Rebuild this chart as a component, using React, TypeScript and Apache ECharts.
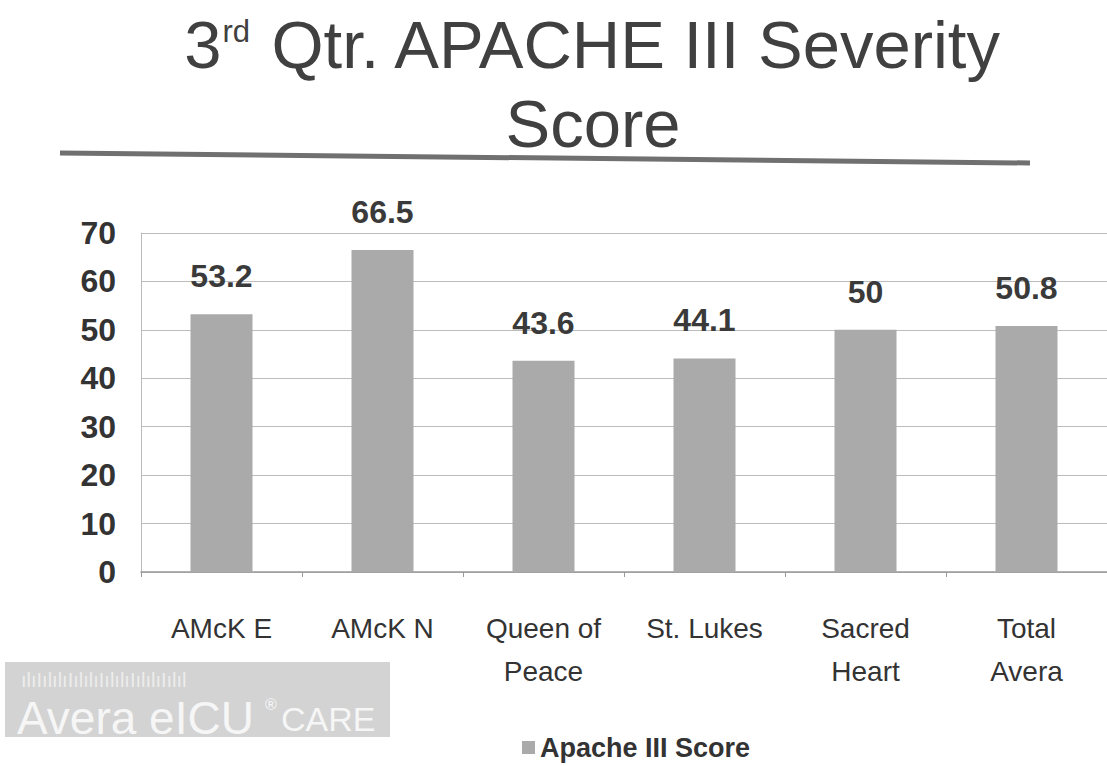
import React, { useEffect, useRef } from "react";
import * as echarts from "echarts";

const categories = ["AMcK E", "AMcK N", "Queen of\nPeace", "St. Lukes", "Sacred\nHeart", "Total\nAvera"];
const scores = [53.2, 66.5, 43.6, 44.1, 50, 50.8];
const seriesName = "Apache III Score";
const yTicks = [0, 10, 20, 30, 40, 50, 60, 70];

export default function App() {
  const ref = useRef<HTMLDivElement>(null);
  useEffect(() => {
    document.body.style.margin = "0";
    const chart = echarts.init(ref.current!, undefined, { renderer: "svg" });
    const font = "'Liberation Sans', Arial, sans-serif";
    chart.setOption({
      animation: false,
      backgroundColor: "#ffffff",
      textStyle: { fontFamily: font },
      title: {
        text: "{n|3}{sup|rd}{n| Qtr. APACHE III Severity}\n{n|Score}",
        left: 588,
        top: 0,
        textAlign: "center",
        textStyle: {
          rich: {
            n: { fontSize: 67, fontWeight: "normal", color: "#404040", fontFamily: font, lineHeight: 79 },
            sup: { fontSize: 31, fontWeight: "normal", color: "#404040", fontFamily: font, verticalAlign: "top", lineHeight: 31, padding: [11, 1, 0, 1] },
          },
        },
      },
      legend: {
        data: [seriesName],
        left: 517,
        top: 729,
        itemWidth: 13,
        itemHeight: 13,
        icon: "rect",
        itemGap: 4,
        textStyle: { fontSize: 27, fontWeight: "bold", color: "#333", fontFamily: font },
      },
      grid: { left: 141, top: 233, width: 972, bottom: 194, containLabel: false },
      xAxis: {
        type: "category",
        data: categories,
        axisLine: { lineStyle: { color: "#999", width: 1.5 } },
        axisTick: { show: true, length: 5, lineStyle: { color: "#999" } },
        axisLabel: { fontSize: 28, color: "#333", margin: 35, lineHeight: 43, fontFamily: font },
      },
      yAxis: {
        type: "value",
        min: 0,
        max: 70,
        interval: 10,
        axisLine: { show: true, lineStyle: { color: "#bbb" } },
        axisTick: { show: false },
        axisLabel: { fontSize: 32, fontWeight: "bold", color: "#333", margin: 25, fontFamily: font,
          formatter: (v: number) => (yTicks.includes(v) ? String(v) : "") },
        splitLine: { show: true, lineStyle: { color: "#bcbcbc", width: 1 } },
      },
      series: [
        {
          name: seriesName,
          type: "bar",
          data: scores,
          barWidth: 62,
          itemStyle: { color: "#aaaaaa" },
          label: {
            show: true,
            position: "top",
            distance: 22,
            fontSize: 32,
            fontWeight: "bold",
            color: "#3a3a3a",
            fontFamily: font,
          },
        },
      ],
      graphic: [
        {
          type: "line",
          shape: { x1: 60, y1: 153, x2: 1030, y2: 163 },
          style: { stroke: "#707070", lineWidth: 5 },
        },
        {
          type: "group",
          left: 5,
          top: 662,
          children: [
            { type: "rect", shape: { x: 0, y: 0, width: 385, height: 75 }, style: { fill: "#d3d3d3" } },
            { type: "text", x: 16, y: 8, style: { text: "ılıIılılıIılılıIılılıIılılıIılıl", fontSize: 20, fill: "#ececec", fontFamily: font } },
            { type: "text", x: 12, y: 33, style: { text: "Avera eICU", fontSize: 46, fill: "#f6f6f6", fontFamily: font } },
            { type: "text", x: 260, y: 34, style: { text: "®", fontSize: 16, fill: "#f6f6f6", fontFamily: font } },
            { type: "text", x: 276, y: 40, style: { text: "CARE", fontSize: 34, fill: "#f6f6f6", fontFamily: font } },
          ],
        },
      ],
    });
    return () => chart.dispose();
  }, []);
  return <div ref={ref} style={{ width: 1107, height: 766 }} />;
}
